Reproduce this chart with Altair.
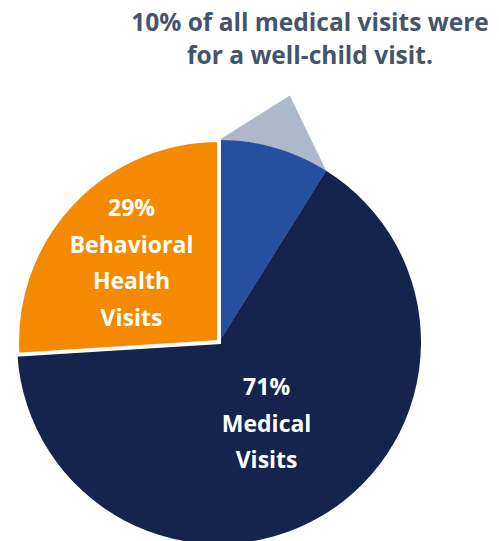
import altair as alt
import numpy as np
import pandas as pd

# ---- data ----
segments = ["Well-child visits", "Other medical visits", "Behavioral health visits"]
shares = [8.9, 65.1, 26.0]          # drawn share of the pie (%)
colors = ["#264FA0", "#14244C", "#F58A00"]
medical_label = ["71%", "Medical", "Visits"]
behavioral_label = ["29%", "Behavioral", "Health", "Visits"]
title_lines = ["10% of all medical visits were", "for a well-child visit."]
callout_color = "#ADB9CA"

# ---- layout (pixels) ----
W, H = 483, 525       # plot area
CX, CY = 211, 334     # pie centre inside plot area
R = 202               # pie radius
APEX = 1.27           # callout apex distance, in radii
FONT = "Open Sans"
LH = 36.5             # label line height

df = pd.DataFrame({
    "segment": segments,
    "share": shares,
    "idx": list(range(len(segments))),
    "cx": 0.0,
    "cy": 0.0,
})

# call-out triangle behind the well-child slice, derived from its angle
a1 = 2 * np.pi * shares[0] / sum(shares)
am = a1 / 2
tri = pd.DataFrame({
    "x": [0.0, APEX * np.sin(am), np.sin(a1)],
    "y": [1.0, APEX * np.cos(am), np.cos(a1)],
    "y0": [0.0, 0.0, 0.0],
})

xs = alt.Scale(domain=[-CX / R, (W - CX) / R], nice=False, zero=False)
ys = alt.Scale(domain=[-(H - CY) / R, CY / R], nice=False, zero=False)

callout = alt.Chart(tri).mark_area(color=callout_color).encode(
    x=alt.X("x:Q", scale=xs, axis=None),
    y=alt.Y("y:Q", scale=ys, axis=None),
    y2="y0:Q",
)

base = alt.Chart(df).encode(
    x=alt.X("cx:Q", scale=xs, axis=None),
    y=alt.Y("cy:Q", scale=ys, axis=None),
    theta=alt.Theta("share:Q", stack=True),
    order=alt.Order("idx:Q"),
)

pie = base.mark_arc(radius=R, stroke="white").encode(
    color=alt.Color("segment:N", scale=alt.Scale(domain=segments, range=colors), legend=None),
    strokeWidth=alt.condition("datum.idx == 2", alt.value(4), alt.value(0)),
)

med_text = base.mark_text(
    radius=93, dy=-LH * (len(medical_label) - 1) / 2 + 3,
    font=FONT, fontWeight="bold", fontSize=23, color="white",
    lineBreak="\n", lineHeight=LH, align="center", baseline="middle",
).transform_calculate(
    t="datum.idx == 1 ? '" + "\\n".join(medical_label) + "' : ''"
).encode(text="t:N")

beh_text = base.mark_text(
    radius=120, dy=-LH * (len(behavioral_label) - 1) / 2 + 4,
    font=FONT, fontWeight="bold", fontSize=23, color="white",
    lineBreak="\n", lineHeight=LH, align="center", baseline="middle",
).transform_calculate(
    t="datum.idx == 2 ? '" + "\\n".join(behavioral_label) + "' : ''"
).encode(text="t:N")

title = alt.Chart(pd.DataFrame({"t": ["\n".join(title_lines)]})).mark_text(
    font=FONT, fontWeight="bold", fontSize=24.5, color="#44546A",
    lineBreak="\n", lineHeight=32.5, align="center", baseline="alphabetic",
).encode(text="t:N", x=alt.value(302), y=alt.value(23))

chart = alt.layer(callout, pie, med_text, beh_text, title).properties(
    width=W, height=H, padding=0
).configure_view(stroke=None)

chart.save("out.html", embed_options={"renderer": "svg", "actions": False})
